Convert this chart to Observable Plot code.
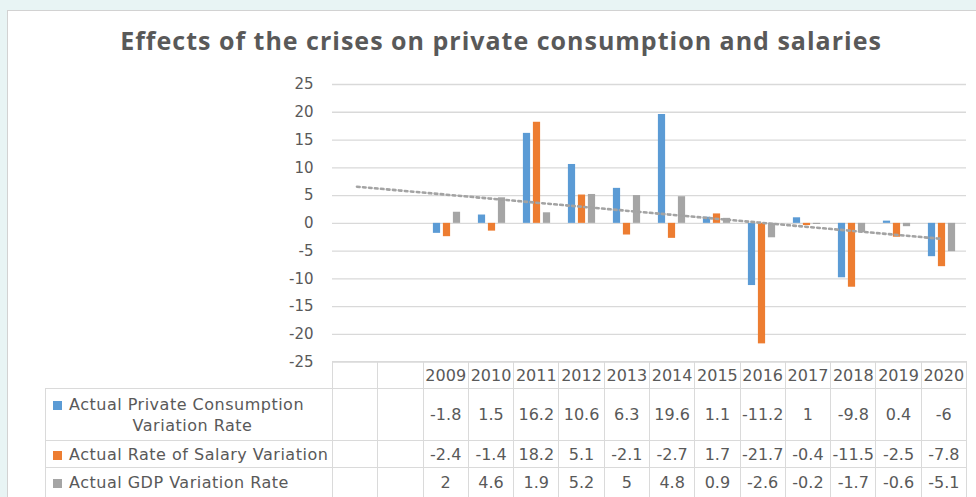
<!DOCTYPE html>
<html><head><meta charset="utf-8">
<script src="https://cdn.jsdelivr.net/npm/d3@7"></script>
<script src="https://cdn.jsdelivr.net/npm/@observablehq/plot@0.6"></script>
<style>
body{margin:0;background:#e8f4f4;width:976px;height:497px;overflow:hidden;position:relative;font-family:"DejaVu Sans",sans-serif;}
#panel{position:absolute;left:7px;top:10px;width:969px;height:487px;background:#fff;border-left:1.5px solid #d2d2d2;border-top:1.5px solid #d2d2d2;box-sizing:border-box}
#title{position:absolute;top:25px;left:0;width:1002px;text-align:center;font:700 25px "Open Sans",sans-serif;line-height:31px;color:#595959;white-space:nowrap;letter-spacing:1px}
#chart{position:absolute;left:0;top:70px}
#tbl{position:absolute;left:45px;top:361px;width:921px;border-collapse:collapse;table-layout:fixed;color:#595959;font-size:16px;font-family:"DejaVu Sans",sans-serif}
#tbl td{border:1.5px solid #dadada;padding:0;text-align:center;vertical-align:middle;white-space:nowrap;overflow:visible}
#tbl td.lab{text-align:left;padding-left:7px;letter-spacing:0.5px;white-space:normal;line-height:21px}
#tbl td.wrap{text-align-last:center}
#tbl td.nob{border:none}
.sw{display:inline-block;width:9px;height:9px;margin-right:7px;vertical-align:0px}
</style></head>
<body>
<div id="panel"></div>
<div id="title"></div>
<div id="chart"></div>
<table id="tbl"></table>
<script>
const titleText = "Effects of the crises on private consumption and salaries";
const blankColumns = [" ", "  "];
const years = ["2009","2010","2011","2012","2013","2014","2015","2016","2017","2018","2019","2020"];
const categories = [...blankColumns, ...years];
const seriesNames = ["Actual Private Consumption Variation Rate", "Actual Rate of Salary Variation", "Actual GDP Variation Rate"];
const seriesColors = ["#5B9BD5", "#ED7D31", "#A5A5A5"];
const privateConsumption = [-1.8, 1.5, 16.2, 10.6, 6.3, 19.6, 1.1, -11.2, 1, -9.8, 0.4, -6];
const salary = [-2.4, -1.4, 18.2, 5.1, -2.1, -2.7, 1.7, -21.7, -0.4, -11.5, -2.5, -7.8];
const gdp = [2, 4.6, 1.9, 5.2, 5, 4.8, 0.9, -2.6, -0.2, -1.7, -0.6, -5.1];
const trendX = [" ", "2020"];
const trendY = [6.6, -2.8];
const yTicks = [-25, -20, -15, -10, -5, 0, 5, 10, 15, 20, 25];

document.getElementById("title").textContent = titleText;

const seriesValues = [privateConsumption, salary, gdp];
const insets = [[8.9, 28.9], [18.9, 18.9], [28.9, 8.9]];

const chart = Plot.plot({
  width: 976, height: 310,
  marginLeft: 332, marginRight: 10, marginTop: 14, marginBottom: 18.3,
  style: {background: "transparent", fontFamily: "DejaVu Sans", fontSize: "15px", color: "#595959", overflow: "visible"},
  x: {type: "band", domain: categories, padding: 0, axis: null},
  y: {domain: [-25, 25], ticks: yTicks, tickSize: 0, tickPadding: 19, label: null, tickFormat: d => String(d)},
  marks: [
    Plot.ruleY(yTicks, {stroke: "#d9d9d9", strokeWidth: 1.3}),
    ...seriesValues.map((vals, s) => Plot.barY(years, {
      x: d => d, y: (d, i) => vals[i], fill: seriesColors[s],
      insetLeft: insets[s][0], insetRight: insets[s][1]
    })),
    Plot.lineY(trendX, {x: d => d, y: (d, i) => trendY[i], stroke: "#a3a3a3", strokeWidth: 2.6, strokeDasharray: "2.6 3.4"})
  ]
});
document.getElementById("chart").appendChild(chart);

// data table
const tbl = document.getElementById("tbl");
const cg = document.createElement("colgroup");
const c0 = document.createElement("col"); c0.style.width = "287px"; cg.appendChild(c0);
categories.forEach(() => { const c = document.createElement("col"); c.style.width = (634 / categories.length) + "px"; cg.appendChild(c); });
tbl.appendChild(cg);
const hr = document.createElement("tr"); hr.style.height = "27px";
const h0 = document.createElement("td"); h0.className = "nob"; hr.appendChild(h0);
categories.forEach(c => { const td = document.createElement("td"); td.textContent = c; hr.appendChild(td); });
tbl.appendChild(hr);
const rowHeights = [52, 27, 30];
seriesNames.forEach((name, s) => {
  const tr = document.createElement("tr"); tr.style.height = rowHeights[s] + "px";
  const lab = document.createElement("td"); lab.className = "lab" + (s === 0 ? " wrap" : "");
  const sw = document.createElement("span"); sw.className = "sw"; sw.style.background = seriesColors[s];
  lab.appendChild(sw); lab.appendChild(document.createTextNode(name));
  tr.appendChild(lab);
  categories.forEach(c => {
    const td = document.createElement("td");
    const i = years.indexOf(c);
    td.textContent = i >= 0 ? String(seriesValues[s][i]) : "";
    tr.appendChild(td);
  });
  tbl.appendChild(tr);
});
</script>
</body></html>
